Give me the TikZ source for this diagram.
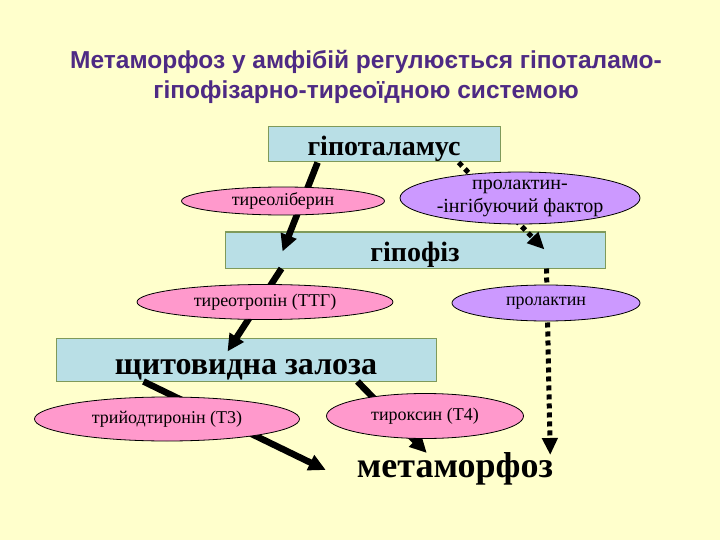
\documentclass[tikz,border=0pt]{standalone}
\usepackage{fontspec}
\setmainfont{Liberation Serif}
\newfontfamily\titlefont{Liberation Sans}
\usetikzlibrary{arrows.meta,calc,shapes.geometric}
\definecolor{bg}{HTML}{FFFFCC}
\definecolor{titlecol}{HTML}{4E2A84}
\definecolor{boxfill}{HTML}{B9DFE6}
\definecolor{boxline}{HTML}{7F9A5A}
\definecolor{pinkfill}{HTML}{FF99CC}
\definecolor{violetfill}{HTML}{CC99FF}
\tikzset{
  organ/.style={draw=boxline, line width=1pt, fill=boxfill, inner sep=0pt, font=\bfseries},
  hormone/.style={ellipse, draw=black, line width=0.8pt, fill=pinkfill, inner sep=0pt, font=\fontsize{18}{20}\selectfont},
  prl/.style={hormone, fill=violetfill},
  solidarrow/.style={line width=6.5pt, -{Triangle[length=17pt,width=16pt]}},
  dotarrow/.style={line width=5pt, dash pattern=on 5pt off 4pt, -{Triangle[length=17pt,width=15pt]}},
}
\newcommand{\baselow}[2]{\raisebox{-#1}[0pt][0pt]{#2}}
\begin{document}
\begin{tikzpicture}[x=1pt,y=-1pt]
\useasboundingbox[fill=bg] (0,0) rectangle (720,540);
% title
\node[font=\titlefont\bfseries\fontsize{24.5}{30}\selectfont, text=titlecol, align=center] (title) at (366,77)
  {Метаморфоз у амфібій регулюється гіпоталамо-\\гіпофізарно-тиреоїдною системою};
% organs
\node[organ, minimum width=232pt, minimum height=35pt, font=\bfseries\fontsize{28}{30}\selectfont] (hyp) at (384,144.5) {\baselow{11pt}{гіпоталамус}};
\node[organ, minimum width=380pt, minimum height=36pt, font=\bfseries\fontsize{28}{30}\selectfont] (pit) at (415,250) {\baselow{12pt}{гіпофіз}};
\node[organ, minimum width=380pt, minimum height=43pt, font=\bfseries\fontsize{32}{36}\selectfont] (thy) at (246,359.5) {\baselow{15pt}{щитовидна залоза}};
\node[inner sep=0pt, font=\bfseries\fontsize{36}{40}\selectfont] (meta) at (455,469) {метаморфоз};
% connectors
\draw[solidarrow] ($(hyp.south west)!0.215!(hyp.south east)$) -- ($(pit.north west)+(58,20)$);
\draw[dotarrow] ($(hyp.south west)!0.82!(hyp.south east)$) -- ($(pit.north west)+(320,18)$);
\draw[solidarrow] ($(pit.south west)+(57,0)$) -- ($(thy.north west)+(172,14)$);
\draw[dotarrow] ($(pit.south west)+(322,0)$) -- ($(meta.east)+(-3,-14)$);
\draw[solidarrow] ($(thy.south west)+(88,0)$) -- ($(meta.west)+(-31,1)$);
\draw[solidarrow] ($(thy.south west)+(302,0)$) -- ($(meta.west)+(70,-16)$);
% hormones
\node[hormone, minimum width=203pt, minimum height=28pt] (trh) at (283,201) {тиреоліберин};
\node[prl, minimum width=240pt, minimum height=48pt, align=center, font=\fontsize{20}{23}\selectfont] (pif) at (520,198) {пролактин-\\-інгібуючий фактор};
\node[hormone, minimum width=256pt, minimum height=35pt] (tsh) at (265,302) {тиреотропін (ТТГ)};
\node[prl, minimum width=188pt, minimum height=36pt] (prol) at (546,303) {пролактин};
\node[hormone, minimum width=265pt, minimum height=44pt] (t3) at (167,419) {трийодтиронін (Т3)};
\node[hormone, minimum width=197pt, minimum height=45pt] (t4) at (425,416) {тироксин (Т4)};
\end{tikzpicture}
\end{document}
